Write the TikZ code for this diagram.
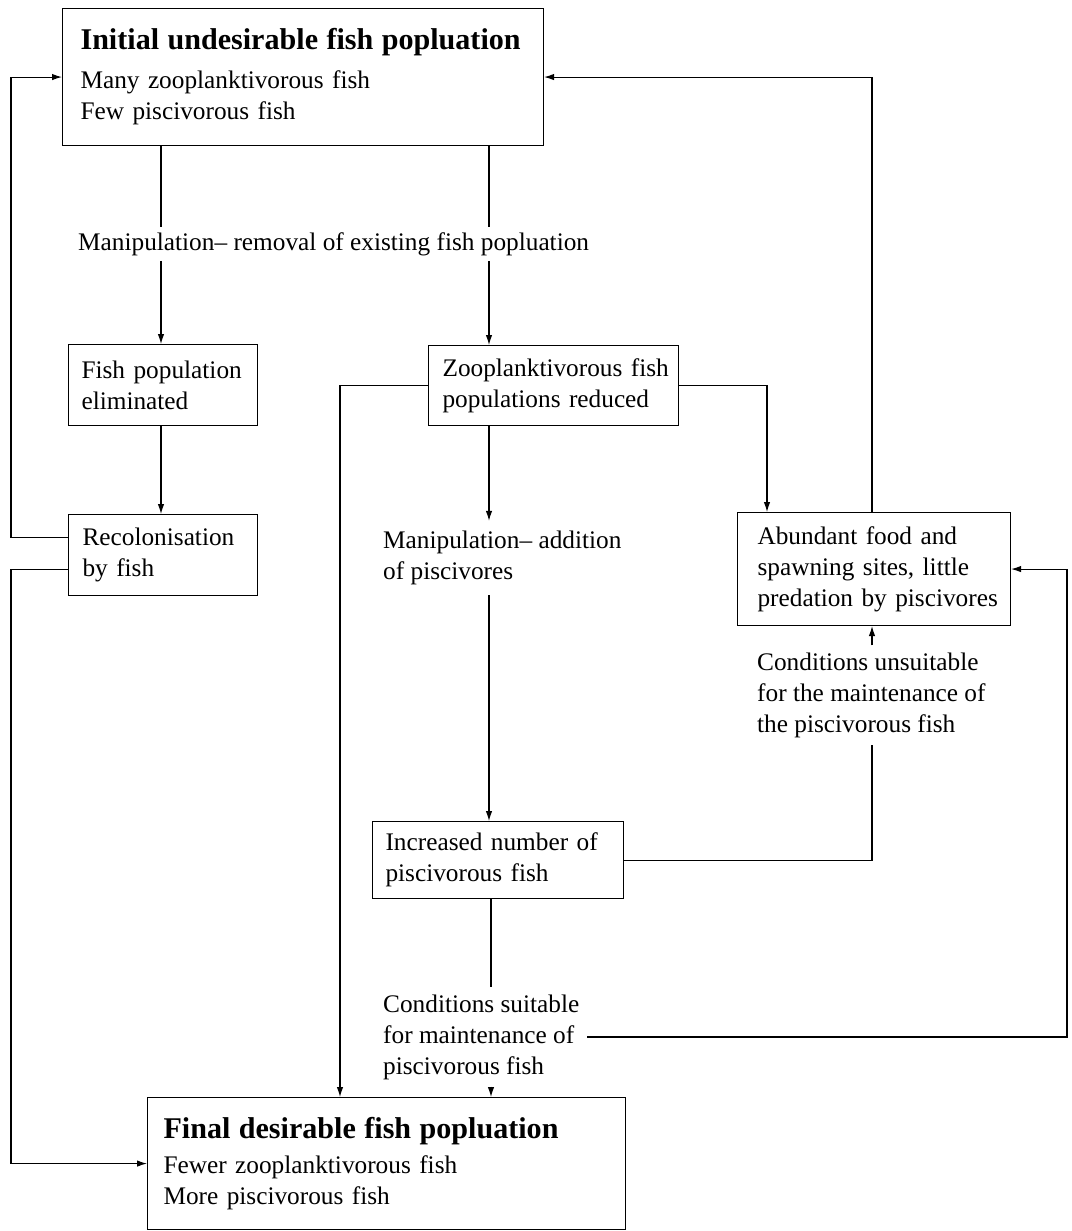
\documentclass[tikz,border=0pt]{standalone}
\usepackage{fontspec}
\setmainfont{Liberation Serif}
\usetikzlibrary{arrows.meta}
\newcommand\mytitle{\fontsize{30.1}{36}\selectfont\bfseries}
\begin{document}
\begin{tikzpicture}[x=1pt,y=-1pt,
  every node/.style={font=\fontsize{25.3}{31}\selectfont},
  box/.style={draw, line width=1.1pt, anchor=north west, align=left, inner ysep=0pt},
  lbl/.style={anchor=west, align=left, inner xsep=8pt, inner ysep=7pt},
  conn/.style={line width=1.1pt},
  arr/.style={conn, -{Latex[length=10pt,width=6.5pt]}}]
\useasboundingbox (0,0) rectangle (1071,1231);

% boxes
\node[box, minimum width=481pt, minimum height=137pt, text width=445pt, inner xsep=18pt] (init) at (62,8)
  {\mbox{\mytitle Initial undesirable fish popluation}\\[8pt]\mbox{Many zooplanktivorous fish}\\\mbox{Few piscivorous fish}};
\node[box, minimum width=189pt, minimum height=81pt, text width=163pt, inner xsep=13pt] (fpe) at (68,344)
  {\mbox{Fish population}\\\mbox{eliminated}};
\node[box, minimum width=189pt, minimum height=81pt, text width=161pt, inner xsep=14pt] (reco) at (68,514)
  {\mbox{Recolonisation}\\\mbox{by fish}};
\node[box, minimum width=250pt, minimum height=80pt, text width=222pt, inner xsep=14pt] (zoopl) at (428,345)
  {\mbox{Zooplanktivorous fish}\\\mbox{populations reduced}};
\node[box, minimum width=273pt, minimum height=113pt, text width=233pt, inner xsep=20pt] (abund) at (737,512)
  {\mbox{Abundant food and}\\\mbox{spawning sites, little}\\\mbox{predation by piscivores}};
\node[box, minimum width=251pt, minimum height=77pt, text width=225pt, inner xsep=13pt] (incr) at (372,821)
  {\mbox{Increased number of}\\\mbox{piscivorous fish}};
\node[box, minimum width=478pt, minimum height=132pt, text width=446pt, inner xsep=16pt] (final) at (147,1097)
  {\mbox{\mytitle Final desirable fish popluation}\\[4pt]\mbox{Fewer zooplanktivorous fish}\\\mbox{More piscivorous fish}};

% labels
\node[lbl, inner ysep=5pt] (manip1) at (70,244) {Manipulation\textendash{} removal of existing fish popluation};
\node[lbl, inner ysep=10pt] (manip2) at (375,558) {Manipulation\textendash{} addition\\of piscivores};
\node[lbl] (cond1) at (749,695) {Conditions unsuitable\\for the maintenance of\\the piscivorous fish};
\node[lbl] (cond2) at (375,1037) {Conditions suitable\\for maintenance of\\piscivorous fish};

% x positions of vertical connectors
\coordinate (xL) at (161,0);
\coordinate (xM) at (489,0);
\coordinate (xM2) at (491,0);
\coordinate (xZ) at (340,0);
\coordinate (xR1) at (767,0);
\coordinate (xA) at (872,0);
\coordinate (xRR) at (1067,0);
\coordinate (xLL) at (11,0);

% connectors
\draw[conn] (init.south -| xL) -- (manip1.north -| xL);
\draw[arr] (manip1.south -| xL) -- (fpe.north -| xL);
\draw[conn] (init.south -| xM) -- (manip1.north -| xM);
\draw[arr] (manip1.south -| xM) -- (zoopl.north -| xM);
\draw[arr] (fpe.south -| xL) -- (reco.north -| xL);
\draw[arr] ([yshift=17.5pt]reco.west) -| (xLL |- init.west) -- (init.west);
\draw[arr] ([yshift=-14.5pt]reco.west) -| (xLL |- final.west) -- (final.west);
\draw[arr] (zoopl.west) -| (xZ |- final.north);
\draw[arr] (zoopl.east) -| (xR1 |- abund.north);
\draw[arr] (abund.north -| xA) |- (init.east);
\draw[arr] (zoopl.south -| xM) -- (manip2.north -| xM);
\draw[arr] (manip2.south -| xM) -- (incr.north -| xM);
\draw[conn] (incr.east) -| (xA |- cond1.south);
\draw[arr] (cond1.north -| xA) -- (abund.south -| xA);
\draw[conn] (incr.south -| xM2) -- (cond2.north -| xM2);
\draw[arr] (cond2.south -| xM2) -- (final.north -| xM2);
\draw[arr] (cond2.east) -| (xRR |- abund.east) -- (abund.east);
\end{tikzpicture}
\end{document}
